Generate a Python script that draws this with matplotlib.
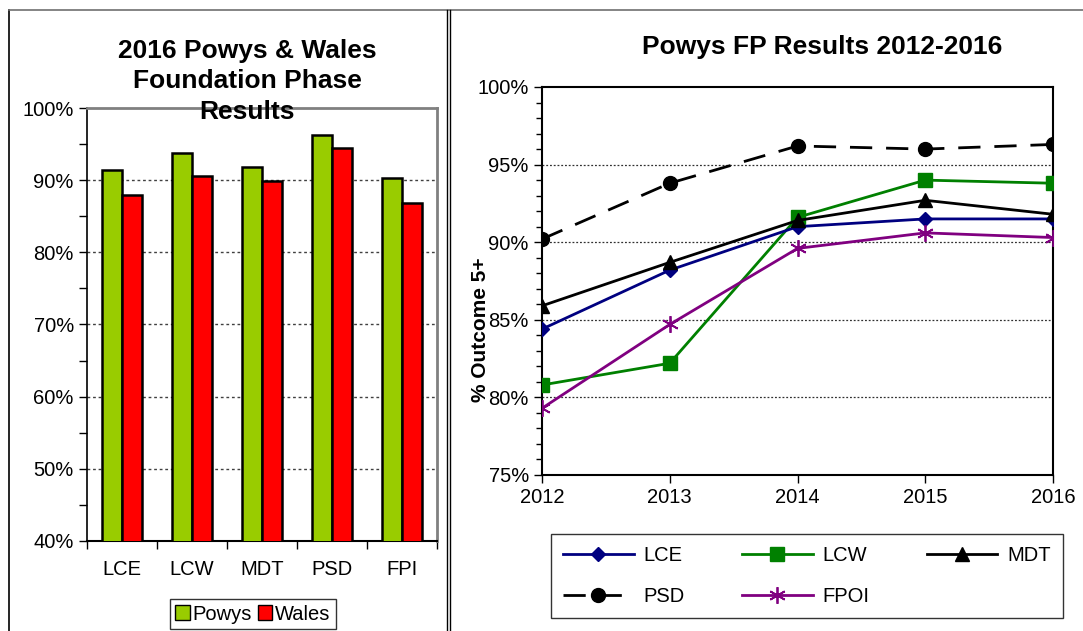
import matplotlib
matplotlib.use("Agg")
import matplotlib.pyplot as plt
from matplotlib.patches import Patch
from matplotlib.lines import Line2D
from matplotlib.ticker import MultipleLocator, FuncFormatter, FixedLocator

plt.rcParams['font.family'] = ['Liberation Sans', 'DejaVu Sans']

# ---- data ----
bar_categories = ["LCE", "LCW", "MDT", "PSD", "FPI"]
powys_2016 = [91.4, 93.8, 91.8, 96.3, 90.3]
wales_2016 = [87.9, 90.6, 89.9, 94.4, 86.9]

years = [2012, 2013, 2014, 2015, 2016]
lce = [84.4, 88.2, 91.0, 91.5, 91.5]
lcw = [80.8, 82.2, 91.6, 94.0, 93.8]
mdt = [85.9, 88.7, 91.4, 92.7, 91.8]
psd = [90.2, 93.8, 96.2, 96.0, 96.3]
fpoi = [79.3, 84.7, 89.6, 90.6, 90.3]

W, H = 1083, 631
fig = plt.figure(figsize=(W / 100, H / 100), dpi=100)

def fx(px):
    return px / W

def fy(py):
    return 1 - py / H

# ---- panel borders ----
fig.add_artist(Line2D([fx(9), fx(9)], [fy(10), 0], color='black', lw=1.2))
fig.add_artist(Line2D([fx(9), fx(1083)], [fy(10), fy(10)], color='#707070', lw=1.2))
fig.add_artist(Line2D([fx(447), fx(447)], [fy(10), 0], color='black', lw=1.0))
fig.add_artist(Line2D([fx(449.5), fx(449.5)], [fy(10), 0], color='black', lw=1.0))

pct = FuncFormatter(lambda v, p: f"{v:.0f}%")

# ---- left bar chart ----
ax1 = fig.add_axes([fx(87), fy(541), fx(437) - fx(87), fy(108) - fy(541)])
xs = list(range(len(bar_categories)))
bw = 0.29
ax1.bar([x - bw / 2 for x in xs], powys_2016, width=bw, color='#99CC00',
        edgecolor='black', linewidth=1.8, zorder=3, label='Powys')
ax1.bar([x + bw / 2 for x in xs], wales_2016, width=bw, color='#FF0000',
        edgecolor='black', linewidth=1.8, zorder=3, label='Wales')
ax1.set_ylim(40, 100)
ax1.set_xlim(-0.5, len(bar_categories) - 0.5)
ax1.yaxis.set_major_locator(MultipleLocator(10))
ax1.yaxis.set_minor_locator(MultipleLocator(5))
ax1.yaxis.set_major_formatter(pct)
ax1.set_xticks([x - 0.5 for x in range(len(bar_categories) + 1)])
ax1.set_xticklabels([])
ax1.xaxis.set_minor_locator(FixedLocator(xs))
ax1.set_xticks(xs, minor=True)
ax1.set_xticklabels(bar_categories, minor=True)
ax1.tick_params(axis='x', which='minor', length=0, labelsize=14.5, pad=14)
ax1.tick_params(axis='x', which='major', length=6, direction='out', width=1)
ax1.tick_params(axis='y', which='major', length=6, labelsize=14.5, width=1)
ax1.tick_params(axis='y', which='minor', length=6, width=1)
for v in [50, 60, 70, 80, 90]:
    ax1.axhline(v, color='#404040', lw=1.0, ls=(0, (2, 2)), zorder=1)
ax1.spines['top'].set_color('#808080')
ax1.spines['right'].set_color('#808080')
ax1.spines['top'].set_linewidth(2)
ax1.spines['right'].set_linewidth(2)
ax1.spines['left'].set_linewidth(1.2)
ax1.spines['bottom'].set_linewidth(1.5)
for txt, yy in [("2016 Powys & Wales", 51), ("Foundation Phase", 81), ("Results", 112)]:
    fig.text(fx(247), fy(yy), txt, ha='center', va='center',
             fontsize=19, fontweight='bold', zorder=10)
leg1 = fig.legend(handles=[Patch(facecolor='#99CC00', edgecolor='black', label='Powys'),
                           Patch(facecolor='#FF0000', edgecolor='black', label='Wales')],
                  loc='center', bbox_to_anchor=(fx(253), fy(614)), ncol=2,
                  fontsize=14.5, frameon=True, fancybox=False, handlelength=0.7,
                  handleheight=0.7, handletextpad=0.15, columnspacing=0.3,
                  borderpad=0.25, borderaxespad=0)
leg1.get_frame().set_edgecolor('black')
leg1.get_frame().set_linewidth(1.0)

# ---- right line chart ----
ax2 = fig.add_axes([fx(542), fy(475), fx(1053) - fx(542), fy(87) - fy(475)])
l_lce, = ax2.plot(years, lce, color='#000080', lw=2, marker='D', ms=7, label='LCE', zorder=4)
l_lcw, = ax2.plot(years, lcw, color='#008000', lw=2, marker='s', ms=10, label='LCW', zorder=3)
l_mdt, = ax2.plot(years, mdt, color='black', lw=2, marker='^', ms=10, label='MDT', zorder=5)
l_psd, = ax2.plot(years, psd, color='black', lw=2, ls=(0, (8, 5)), marker='o', ms=10,
                  label='PSD', zorder=5)
l_fpoi, = ax2.plot(years, fpoi, color='#800080', lw=2, marker=(6, 2, 0), ms=12, mew=1.3,
                   label='FPOI', zorder=4)
ax2.set_xlim(years[0], years[-1])
ax2.set_ylim(75, 100)
ax2.set_xticks(years)
ax2.set_xticklabels([str(y) for y in years])
ax2.yaxis.set_major_locator(MultipleLocator(5))
ax2.yaxis.set_minor_locator(MultipleLocator(1))
ax2.yaxis.set_major_formatter(pct)
ax2.tick_params(axis='both', which='major', labelsize=14.5, length=6, width=1)
ax2.tick_params(axis='y', which='minor', length=4, width=1)
for v in [80, 85, 90, 95]:
    ax2.axhline(v, color='#303030', lw=0.9, ls=(0, (1.5, 1.5)), zorder=1)
for s in ax2.spines.values():
    s.set_linewidth(1.5)
fig.text(fx(822), fy(47), "Powys FP Results 2012-2016", ha='center', va='center',
         fontsize=19, fontweight='bold')
fig.text(fx(480), fy(330), "% Outcome 5+", ha='center', va='center', rotation=90,
         fontsize=15, fontweight='bold', zorder=10)
leg2 = fig.legend(loc='center', ncol=3, mode='expand',
                  bbox_to_anchor=(fx(551), fy(620), fx(1063) - fx(551), fy(532) - fy(620)),
                  handles=[l_lce, l_psd, l_lcw, l_fpoi, l_mdt], fontsize=14.5,
                  frameon=True, fancybox=False,
                  handlelength=3.5, handletextpad=0.5, borderpad=0.6, labelspacing=1.1,
                  borderaxespad=0)
leg2.get_frame().set_edgecolor('black')
leg2.get_frame().set_linewidth(1.0)

fig.savefig("out.png", dpi=100)
